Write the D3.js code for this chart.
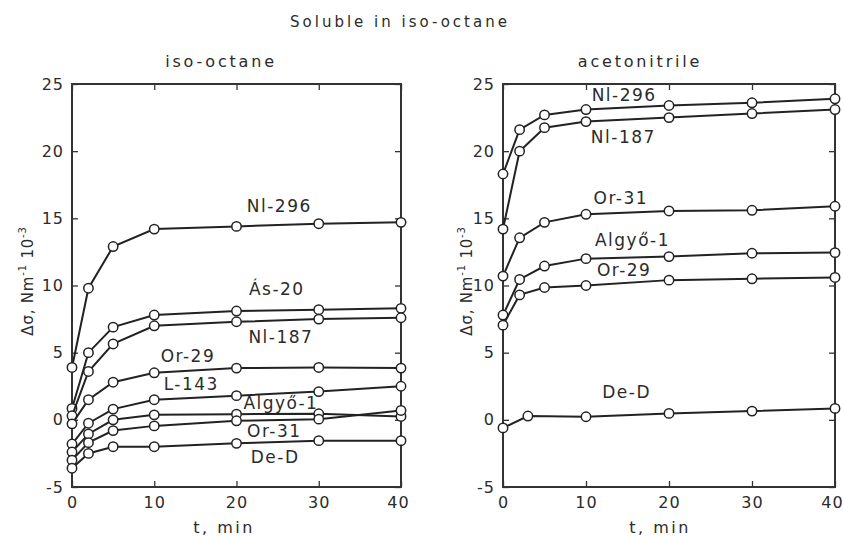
<!DOCTYPE html>
<html>
<head>
<meta charset="utf-8">
<script src="https://cdnjs.cloudflare.com/ajax/libs/d3/7.8.5/d3.min.js"></script>
<style>
  body { margin: 0; background: #fff; }
  text { font-family: 'DejaVu Sans', sans-serif; fill: #2b2b2b; }
</style>
</head>
<body>
<script>
// time points (min)
var times = [0, 2, 5, 10, 20, 30, 40];
var timesAcnDeD = [0, 3, 10, 20, 30, 40];
var xTicks = [0, 10, 20, 30, 40];
var yTicks = [-5, 0, 5, 10, 15, 20, 25];

// iso-octane panel, delta sigma (Nm-1 10-3)
var isoNl296 = [3.9, 9.8, 12.9, 14.2, 14.4, 14.6, 14.7];
var isoAs20 = [0.85, 5.0, 6.9, 7.8, 8.1, 8.2, 8.3];
var isoNl187 = [0.3, 3.6, 5.65, 7.0, 7.3, 7.5, 7.6];
var isoOr29 = [-0.3, 1.5, 2.8, 3.5, 3.85, 3.9, 3.85];
var isoL143 = [-1.8, -0.25, 0.8, 1.5, 1.8, 2.1, 2.5];
var isoAlgyo1 = [-2.4, -1.05, 0.0, 0.37, 0.42, 0.45, 0.25];
var isoOr31 = [-3.0, -1.7, -0.8, -0.45, -0.07, 0.05, 0.7];
var isoDeD = [-3.6, -2.5, -2.0, -2.0, -1.75, -1.55, -1.55];

// acetonitrile panel
var acnNl296 = [18.3, 21.6, 22.7, 23.1, 23.4, 23.6, 23.9];
var acnNl187 = [14.2, 20.0, 21.75, 22.2, 22.5, 22.8, 23.1];
var acnOr31 = [10.7, 13.55, 14.7, 15.3, 15.55, 15.6, 15.9];
var acnAlgyo1 = [7.8, 10.45, 11.45, 12.0, 12.15, 12.4, 12.45];
var acnOr29 = [7.05, 9.3, 9.85, 10.0, 10.4, 10.5, 10.6];
var acnDeD = [-0.6, 0.28, 0.23, 0.48, 0.65, 0.85];

// curve labels, anchored in data units (t, value)
var isoLabels = [
  ['Nl-296', 25.2, 15.45], ['Ás-20', 24.9, 9.3], ['Nl-187', 25.4, 5.7],
  ['Or-29', 14.1, 4.3], ['L-143', 14.5, 2.25], ['Algyő-1', 25.4, 0.8],
  ['Or-31', 24.6, -1.25], ['De-D', 24.7, -3.2]
];
var acnLabels = [
  ['Nl-296', 14.6, 23.75], ['Nl-187', 14.5, 20.6], ['Or-31', 14.2, 16.1],
  ['Algyő-1', 15.6, 12.95], ['Or-29', 14.6, 10.7], ['De-D', 14.9, 1.6]
];

var isoSeries = [
  [times, isoNl296], [times, isoAs20], [times, isoNl187], [times, isoOr29],
  [times, isoL143], [times, isoAlgyo1], [times, isoOr31], [times, isoDeD]
];
var acnSeries = [
  [times, acnNl296], [times, acnNl187], [times, acnOr31],
  [times, acnAlgyo1], [times, acnOr29], [timesAcnDeD, acnDeD]
];

var width = 843, height = 536;
var svg = d3.select('body').append('svg')
    .attr('width', width)
    .attr('height', height);

svg.append('text')
    .attr('x', 400).attr('y', 27)
    .attr('text-anchor', 'middle')
    .attr('font-size', 15)
    .attr('letter-spacing', 3)
    .text('Soluble in iso-octane');

function styleLabels(axisG) {
    axisG.selectAll('.tick text')
        .attr('font-size', 16)
        .attr('letter-spacing', 1)
        .attr('fill', '#2b2b2b')
        .style('font-family', "'DejaVu Sans', sans-serif")
        .text(function(d) { return d < 0 ? '-' + Math.abs(d) : d; });
}

function drawPanel(opts) {
    var x = d3.scaleLinear().domain([0, 40]).range([opts.left, opts.right]);
    var y = d3.scaleLinear().domain([-5, 25]).range([487, 84]);
    var g = svg.append('g');

    // inward ticks on all four sides, numbers only bottom and left
    var bottom = g.append('g').attr('transform', 'translate(0,487)')
        .call(d3.axisBottom(x).tickValues(xTicks).tickSizeInner(-6).tickSizeOuter(0).tickPadding(10));
    g.append('g').attr('transform', 'translate(0,84)')
        .call(d3.axisTop(x).tickValues(xTicks).tickSizeInner(-6).tickSizeOuter(0).tickFormat(''));
    var leftAx = g.append('g').attr('transform', 'translate(' + opts.left + ',0)')
        .call(d3.axisLeft(y).tickValues(yTicks).tickSizeInner(-6).tickSizeOuter(0).tickPadding(8));
    g.append('g').attr('transform', 'translate(' + opts.right + ',0)')
        .call(d3.axisRight(y).tickValues(yTicks).tickSizeInner(-6).tickSizeOuter(0).tickFormat(''));
    g.selectAll('.domain').remove();
    g.selectAll('.tick line').attr('stroke', '#333').attr('stroke-width', 1.3);
    styleLabels(bottom);
    styleLabels(leftAx);
    // last time label sits a little left of its tick, as in the original
    bottom.selectAll('.tick text').attr('dx', function(d) { return d === 40 ? -3 : 0; });

    g.append('rect')
        .attr('x', opts.left).attr('y', 84)
        .attr('width', opts.right - opts.left).attr('height', 487 - 84)
        .attr('fill', 'none')
        .attr('stroke', '#333')
        .attr('stroke-width', 2);

    var line = d3.line()
        .x(function(d) { return x(d[0]); })
        .y(function(d) { return y(d[1]); });

    opts.series.forEach(function(s) {
        var pts = s[0].map(function(t, i) { return [t, s[1][i]]; });
        g.append('path')
            .datum(pts)
            .attr('d', line)
            .attr('fill', 'none')
            .attr('stroke', '#222')
            .attr('stroke-width', 2);
        g.selectAll(null).data(pts).enter().append('circle')
            .attr('cx', function(d) { return x(d[0]); })
            .attr('cy', function(d) { return y(d[1]); })
            .attr('r', 4.7)
            .attr('fill', '#fff')
            .attr('stroke', '#222')
            .attr('stroke-width', 1.5);
    });

    opts.labels.forEach(function(l) {
        g.append('text')
            .attr('x', x(l[1])).attr('y', y(l[2]))
            .attr('text-anchor', 'middle')
            .attr('font-size', 17)
            .attr('letter-spacing', 1.5)
            .text(l[0]);
    });

    g.append('text')
        .attr('x', opts.titleX).attr('y', 67)
        .attr('text-anchor', 'middle')
        .attr('font-size', 16)
        .attr('letter-spacing', 2.8)
        .text(opts.title);

    g.append('text')
        .attr('x', opts.xlabelX).attr('y', 533)
        .attr('text-anchor', 'middle')
        .attr('font-size', 16)
        .attr('letter-spacing', 2.5)
        .text('t, min');

    var yl = g.append('text')
        .attr('transform', 'translate(' + opts.ylabelX + ',281) rotate(-90)')
        .attr('text-anchor', 'middle')
        .attr('font-size', 15)
        .attr('letter-spacing', 0.8);
    yl.append('tspan').text('Δσ, Nm');
    yl.append('tspan').attr('dy', -7).attr('font-size', 10).text('-1');
    yl.append('tspan').attr('dy', 7).text(' 10');
    yl.append('tspan').attr('dy', -7).attr('font-size', 10).text('-3');
}

drawPanel({
    left: 72, right: 401, series: isoSeries, labels: isoLabels,
    title: 'iso-octane', titleX: 221, xlabelX: 224, ylabelX: 33
});
drawPanel({
    left: 503, right: 835, series: acnSeries, labels: acnLabels,
    title: 'acetonitrile', titleX: 640, xlabelX: 660, ylabelX: 472
});
</script>
</body>
</html>
